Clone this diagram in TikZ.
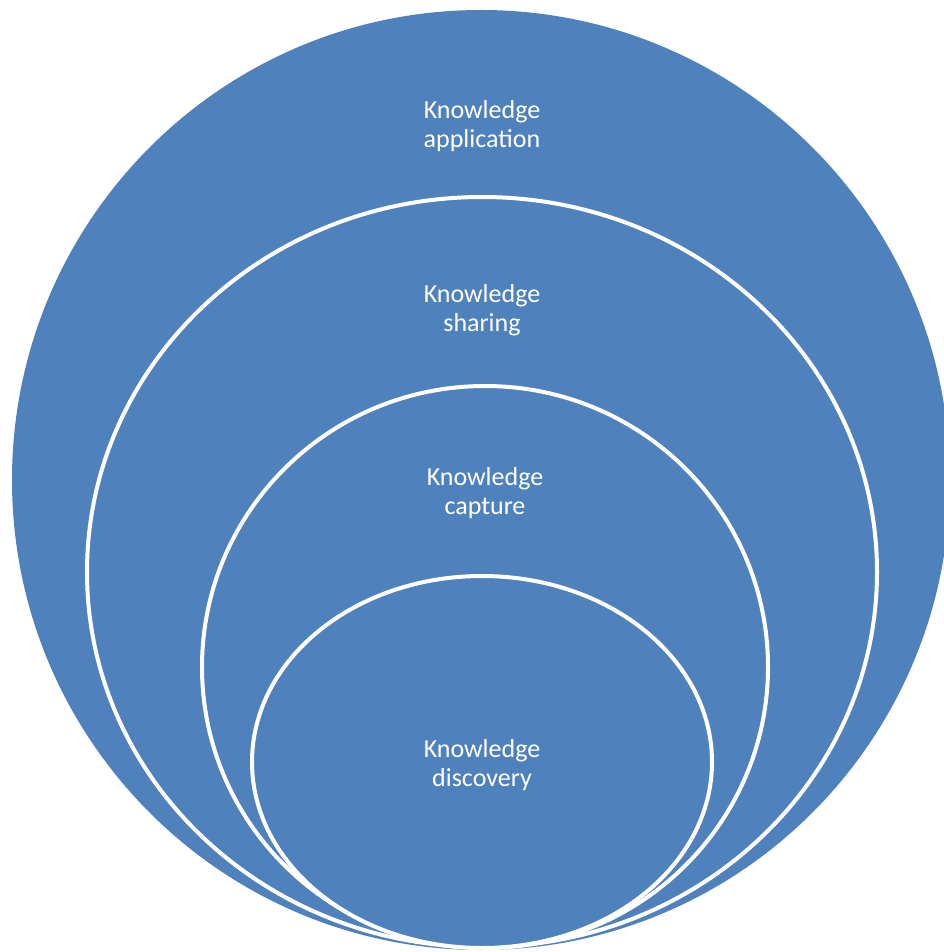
\documentclass[tikz,border=0pt]{standalone}
\usepackage{fontspec}
\setmainfont{Carlito}
\definecolor{ringblue}{HTML}{4F81BD}
\begin{document}
\begin{tikzpicture}[x=1pt,y=-1pt,
  ring/.style={fill=ringblue,draw=white,line width=4pt},
  lbl/.style={text=white,align=center,font=\fontsize{26}{29}\selectfont,inner sep=0pt}]
\useasboundingbox (0,0) rectangle (943,952);
\fill[ringblue] (481,480) ellipse [x radius=469, y radius=470];
\draw[ring] (482,572) ellipse [x radius=395, y radius=375];
\draw[ring] (485,667) ellipse [x radius=283, y radius=281];
\draw[ring] (482,762) ellipse [x radius=230, y radius=186];
\node[lbl] (app) at (482,126) {Knowledge\\application};
\node[lbl] (sha) at (482,310) {Knowledge\\sharing};
\node[lbl] (cap) at (485,493) {Knowledge\\capture};
\node[lbl] (dis) at (482,765) {Knowledge\\discovery};
\end{tikzpicture}
\end{document}
